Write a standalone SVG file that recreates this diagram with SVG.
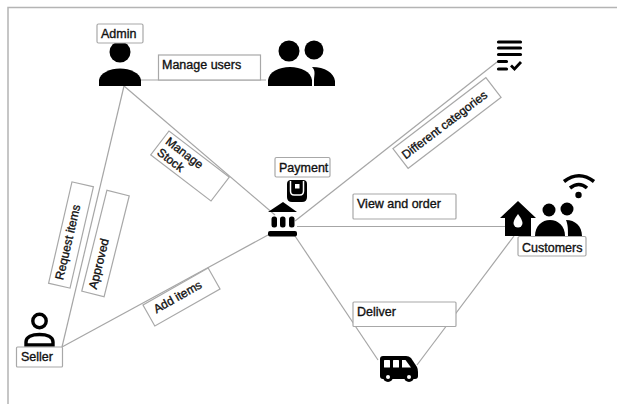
<svg xmlns="http://www.w3.org/2000/svg" width="617" height="404" viewBox="0 0 617 404">
<style>
.f{fill:none;stroke:#b4b4b4;stroke-width:1.5}
.c{fill:none;stroke:#a6a6a6;stroke-width:1.2}
.b{fill:#fff;stroke:#a8a8a8;stroke-width:1.2}
.t{font-family:"Liberation Sans",Arial,sans-serif;font-size:12.5px;fill:#111;stroke:#111;stroke-width:.35}
.r{font-size:12px}
.k{fill:#000}
.w{fill:#fff}
</style>
<rect width="617" height="404" fill="#fff"/>
<path class="f" d="M8 404V7.500H617"/>
<g id="connectors">
<path class="c" d="M141 80H266"/>
<path class="c" d="M124 86L275 215"/>
<path class="c" d="M124 86L62 347"/>
<path class="c" d="M62 347L268 235"/>
<path class="c" d="M295 221L497 62"/>
<path class="c" d="M297 226.500H505"/>
<path class="c" d="M295 236L378 360"/>
<path class="c" d="M417 365L514 236"/>
</g>
<g id="admin">
<circle class="k" cx="120" cy="52" r="10.500"/>
<path class="k" d="M99 86V80C100 73 110 68.500 120 68.500S140 73 141 80V86Z"/>
<rect class="b" x="97" y="24" width="46" height="19" rx="1.500"/>
<text class="t" x="101" y="38">Admin</text>
</g>
<g id="users">
<circle class="k" cx="289" cy="51" r="10.500"/>
<circle class="k" cx="314" cy="50" r="9.500"/>
<path class="k" d="M268 86V80C269 72 279 67 290 67S311 72 312 80V86Z"/>
<path class="k" d="M312 67C325 67 334 73 335 81V86H314V80C314 75 316 71 312 67Z"/>
</g>
<g id="manage-users-label">
<rect class="b" x="158.500" y="55" width="102" height="25"/>
<text class="t" x="162" y="69">Manage users</text>
</g>
<g id="categories">
<path fill="none" stroke="#000" stroke-width="3.200" stroke-linecap="round" d="M498.500 42H520.500M498.500 48H520.500M498.500 54.500H520.500M498.500 61.500H506.500M498.500 69H506.500"/>
<path fill="none" stroke="#000" stroke-width="2.800" d="M511 65.500L514.500 69L521 62"/>
</g>
<g id="different-categories-label" transform="translate(447 123) rotate(-37.400)">
<rect class="b" x="-58.500" y="-12.500" width="117" height="25"/>
<text class="t r" x="-55" y="4">Different categories</text>
</g>
<g id="manage-stock-label" transform="translate(190 166) rotate(37.500)">
<rect class="b" x="-38" y="-15" width="76" height="30"/>
<text class="t r" x="-34" y="-3">Manage</text>
<text class="t r" x="-34" y="11">Stock</text>
</g>
<g id="payment">
<rect class="b" x="275" y="157.500" width="55" height="19.500" rx="1.500"/>
<text class="t" x="279" y="172">Payment</text>
<path class="k" d="M287 184Q287 180 291 180H303Q307 180 307 184V197Q307 202 302 202H292Q287 202 287 197Z"/>
<path fill="none" stroke="#fff" stroke-width="1.500" d="M290.500 181V191Q290.500 195 294 195H300Q303.500 195 303.500 191V181"/>
<rect class="w" x="295" y="184" width="4.500" height="4.500"/>
</g>
<g id="bank">
<path class="k" d="M283 202L297 212H268Z"/>
<rect class="k" x="271.500" y="216.500" width="5.500" height="11" rx="2.500"/>
<rect class="k" x="280" y="216.500" width="5.500" height="11" rx="2.500"/>
<rect class="k" x="289" y="216.500" width="5.500" height="11" rx="2.500"/>
<rect class="k" x="268" y="231" width="29" height="5.500" rx="2"/>
</g>
<g id="view-order-label">
<rect class="b" x="353" y="194" width="103" height="25" rx="1"/>
<text class="t" x="357" y="208">View and order</text>
</g>
<g id="customers">
<path class="k" d="M518 201L536 218H531V236H505V218H500Z"/>
<path class="w" d="M518 214Q522.500 220 522.500 223A4.500 4.500 0 0 1 513.500 223Q513.500 220 518 214Z"/>
<circle class="k" cx="549" cy="210" r="6.500"/>
<circle class="k" cx="567" cy="209" r="6.500"/>
<path class="k" d="M535 236C535 226 542 220 550 220S565 226 565 236Z"/>
<path class="k" d="M566 220C575 220 582 226 582 236H568C568 229 568 225 566 220Z"/>
<path fill="none" stroke="#000" stroke-width="3.600" d="M564 181.500Q579 170 594 181.500M570 188Q579 181 587 188"/>
<circle class="k" cx="578.500" cy="195" r="3.200"/>
<rect class="b" x="518" y="236.500" width="68" height="19.500" rx="1.500"/>
<text class="t" x="522" y="252">Customers</text>
</g>
<g id="request-items-label" transform="translate(71 235) rotate(-77)">
<rect class="b" x="-52" y="-11" width="104" height="22"/>
<text class="t r" x="-46" y="2.500">Request items</text>
</g>
<g id="approved-label" transform="translate(105.500 243.500) rotate(-76)">
<rect class="b" x="-52" y="-11.500" width="104" height="23"/>
<text class="t r" x="-47" y="2.500">Approved</text>
</g>
<g id="add-items-label" transform="translate(181.500 297) rotate(-29.600)">
<rect class="b" x="-37.500" y="-12" width="75" height="24"/>
<text class="t r" x="-30" y="2">Add items</text>
</g>
<g id="seller">
<circle cx="39.500" cy="321" r="6.700" fill="none" stroke="#000" stroke-width="3.400"/>
<path fill="none" stroke="#000" stroke-width="3.400" d="M26 345V342C26 337 32 334.500 39.500 334.500S53 337 53 342V345Z"/>
<rect class="b" x="16.500" y="347" width="46" height="20" rx="1"/>
<text class="t" x="21" y="361">Seller</text>
</g>
<g id="deliver-label">
<rect class="b" x="353" y="302" width="103" height="24.500" rx="1"/>
<text class="t" x="357" y="316">Deliver</text>
</g>
<g id="van">
<path class="k" d="M383 356H406Q409 356 411 358L417 367Q418 369 418 372V376Q418 379 415 379H383Q380 379 380 376V359Q380 356 383 356Z"/>
<circle class="k" cx="388" cy="377" r="5"/>
<circle class="k" cx="409" cy="377" r="5"/>
<circle class="w" cx="388" cy="377" r="2"/>
<circle class="w" cx="409" cy="377" r="2"/>
<rect class="w" x="384" y="360" width="6" height="7.500" rx=".5"/>
<rect class="w" x="393" y="360" width="6" height="7.500" rx=".5"/>
<path class="w" d="M402 360H405.500L411 367.500H402Z"/>
</g>
</svg>
